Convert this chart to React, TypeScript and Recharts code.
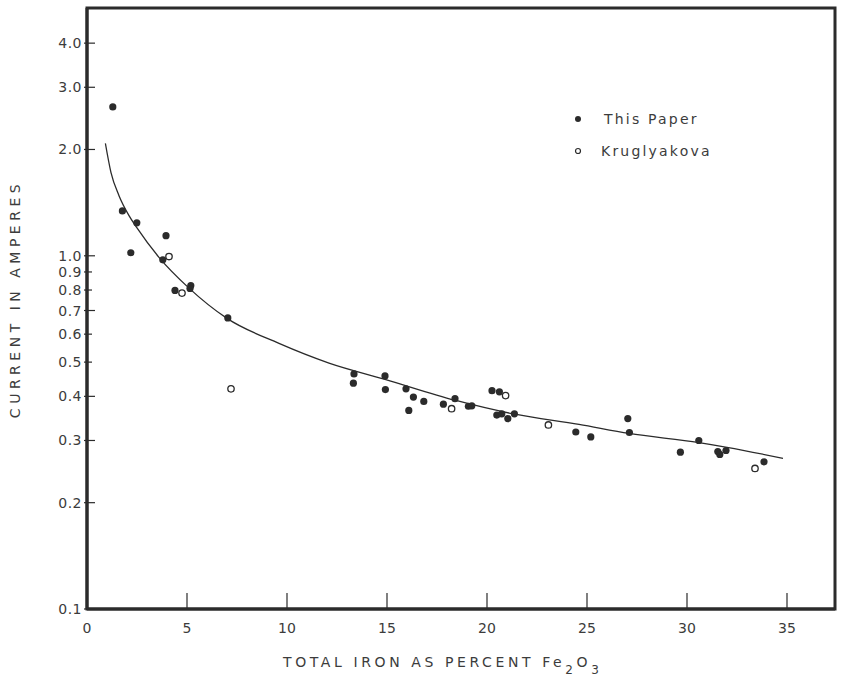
import React from 'react';
import {
  ComposedChart,
  Scatter,
  Line,
  XAxis,
  YAxis,
  ReferenceArea,
  Legend
} from 'recharts';

// total iron (% Fe2O3) vs. current (amperes)
const thisPaperIron = [
  1.29, 1.77, 2.49, 2.19, 3.95, 3.79, 4.4, 5.19, 5.15, 7.04,
  13.35, 13.32, 14.9, 14.92, 15.95, 16.32, 16.09, 16.84, 17.82, 18.4,
  19.07, 19.24, 20.25, 20.62, 20.49, 20.74, 21.04, 21.37, 24.44, 25.19,
  27.04, 27.12, 29.67, 30.59, 31.54, 31.64, 31.95, 33.85
];
const thisPaperCurrent = [
  2.64, 1.34, 1.24, 1.02, 1.14, 0.974, 0.798, 0.824, 0.808, 0.667,
  0.463, 0.436, 0.457, 0.418, 0.42, 0.398, 0.365, 0.387, 0.38, 0.394,
  0.375, 0.376, 0.415, 0.412, 0.354, 0.357, 0.346, 0.357, 0.317, 0.307,
  0.346, 0.316, 0.278, 0.3, 0.279, 0.274, 0.281, 0.261
];

const kruglyakovaIron = [4.1, 4.75, 7.2, 18.23, 20.93, 23.07, 33.4];
const kruglyakovaCurrent = [0.995, 0.784, 0.42, 0.369, 0.402, 0.332, 0.25];

// fitted curve
const curveIron = [0.92, 1.2, 1.6, 2.1, 2.5, 3.6, 5.1, 7.0, 9.6, 12.1, 14.9, 18.4, 21.4, 24.6, 27.1, 30.6, 32.0, 34.8];
const curveCurrent = [2.08, 1.72, 1.48, 1.3, 1.2, 0.99, 0.81, 0.665, 0.565, 0.497, 0.447, 0.39, 0.356, 0.333, 0.314, 0.296, 0.287, 0.267];

const xTicks = [0, 5, 10, 15, 20, 25, 30, 35];
const yTicks = [0.1, 0.2, 0.3, 0.4, 0.5, 0.6, 0.7, 0.8, 0.9, 1, 2, 3, 4];
const yTickLabels = ['0.1', '0.2', '0.3', '0.4', '0.5', '0.6', '0.7', '0.8', '0.9', '1.0', '2.0', '3.0', '4.0'];

const X_MAX = 37.4;
const Y_MIN = 0.1;
const Y_MAX = 5.03;

const INK = '#2b2b2b';
const TEXT = '#3c3c3c';
const FONT = '"DejaVu Sans", sans-serif';

const thisPaper = thisPaperIron.map((x, i) => ({ x, y: thisPaperCurrent[i] }));
const kruglyakova = kruglyakovaIron.map((x, i) => ({ x, y: kruglyakovaCurrent[i] }));
const curve = curveIron.map((x, i) => ({ x, y: curveCurrent[i] }));

function YTick({ x, y, payload }: any) {
  const idx = yTicks.indexOf(payload.value);
  const minor = [0.5, 0.6, 0.8, 0.9].includes(payload.value);
  return (
    <g>
      <line x1={x - 3} x2={x + (minor ? 5 : 8)} y1={y} y2={y} stroke={INK} strokeWidth={1.2} />
      <text x={x - 5} y={y} dy={5} textAnchor="end" fill={TEXT} fontSize={14} fontFamily={FONT} letterSpacing={0.5}>
        {yTickLabels[idx]}
      </text>
    </g>
  );
}

function XTick({ x, y, payload }: any) {
  return (
    <g>
      <line x1={x} x2={x} y1={y} y2={y - 16} stroke={INK} strokeWidth={1.2} />
      <text x={x} y={y} dy={24} textAnchor="middle" fill={TEXT} fontSize={14} fontFamily={FONT}>
        {payload.value}
      </text>
    </g>
  );
}

function XTitle() {
  return (
    <text x={283} y={667} fill={TEXT} fontSize={14} fontFamily={FONT} letterSpacing={3.6}>
      TOTAL IRON AS PERCENT Fe
      <tspan dy={7} fontSize={12}>2</tspan>
      <tspan dy={-7}>O</tspan>
      <tspan dy={7} fontSize={12}>3</tspan>
    </text>
  );
}

function YTitle() {
  return (
    <text
      x={20}
      y={299}
      transform="rotate(-90 20 299)"
      textAnchor="middle"
      fill={TEXT}
      fontSize={14}
      fontFamily={FONT}
      letterSpacing={4.5}
    >
      CURRENT IN AMPERES
    </text>
  );
}

function LegendBox() {
  const row = { display: 'flex', alignItems: 'center', height: 32 };
  const label = { fontSize: 14, fontFamily: FONT, color: TEXT, letterSpacing: 2.2 };
  return (
    <div>
      <div style={row}>
        <svg width={31} height={10}>
          <circle cx={5} cy={5} r={3} fill={INK} />
        </svg>
        <span style={label}>This Paper</span>
      </div>
      <div style={row}>
        <svg width={28} height={10}>
          <circle cx={5} cy={5} r={2.5} fill="#fff" stroke={INK} strokeWidth={1.2} />
        </svg>
        <span style={label}>Kruglyakova</span>
      </div>
    </div>
  );
}

const filledDot = (p: any) => <circle cx={p.cx} cy={p.cy} r={3.6} fill={INK} />;
const openDot = (p: any) => (
  <circle cx={p.cx} cy={p.cy} r={3.2} fill="#fff" stroke={INK} strokeWidth={1.3} />
);

export default function App() {
  return (
    <div style={{ position: 'absolute', left: 0, top: 0, background: '#fff' }}>
      <ComposedChart
        width={843}
        height={686}
        margin={{ top: 8, right: 8, bottom: 0, left: 0 }}
      >
        <XAxis
          type="number"
          dataKey="x"
          domain={[0, X_MAX]}
          ticks={xTicks}
          interval={0}
          allowDataOverflow
          height={77}
          tickSize={0}
          tickMargin={0}
          tickLine={false}
          axisLine={{ stroke: INK, strokeWidth: 3 }}
          tick={<XTick />}
          label={<XTitle />}
        />
        <YAxis
          type="number"
          dataKey="y"
          scale="log"
          domain={[Y_MIN, Y_MAX]}
          ticks={yTicks}
          interval={0}
          allowDataOverflow
          width={87}
          tickSize={0}
          tickMargin={0}
          tickLine={false}
          axisLine={{ stroke: INK, strokeWidth: 3 }}
          tick={<YTick />}
          label={<YTitle />}
        />
        <ReferenceArea
          x1={0}
          x2={X_MAX}
          y1={Y_MIN}
          y2={Y_MAX}
          fill="none"
          stroke={INK}
          strokeWidth={3}
        />
        <Line
          data={curve}
          dataKey="y"
          type="monotone"
          stroke={INK}
          strokeWidth={1.3}
          dot={false}
          isAnimationActive={false}
          legendType="none"
        />
        <Scatter
          name="This Paper"
          data={thisPaper}
          shape={filledDot}
          isAnimationActive={false}
        />
        <Scatter
          name="Kruglyakova"
          data={kruglyakova}
          shape={openDot}
          isAnimationActive={false}
        />
        <Legend
          layout="vertical"
          align="center"
          verticalAlign="middle"
          wrapperStyle={{ left: 573, top: 103, width: 170 }}
          content={<LegendBox />}
        />
      </ComposedChart>
    </div>
  );
}
